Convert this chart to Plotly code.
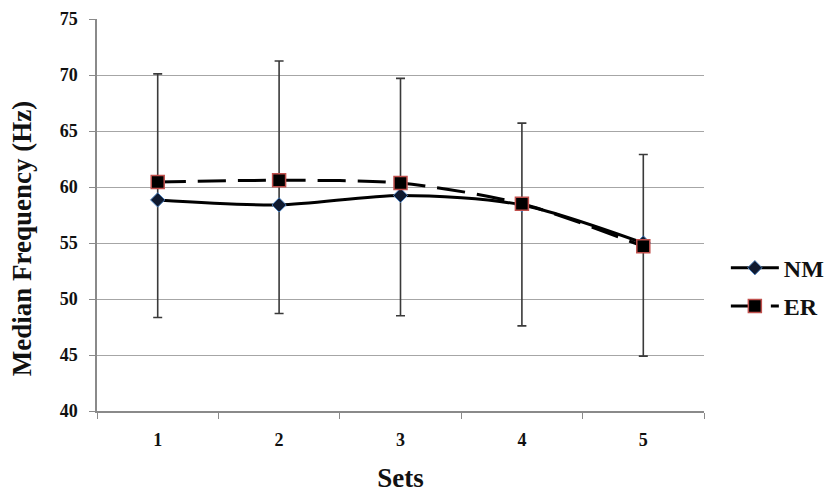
import plotly.graph_objects as go

# Median frequency per set for the two protocols
sets = ["1", "2", "3", "4", "5"]
nm_values = [58.85, 58.4, 59.25, 58.4, 55.0]
er_values = [60.45, 60.6, 60.35, 58.5, 54.7]

# Upper and lower ends of the variability bars
bar_top = [70.1, 71.25, 69.7, 65.7, 62.9]
bar_bottom = [48.35, 48.7, 48.5, 47.6, 44.9]

y_ticks = [40, 45, 50, 55, 60, 65, 70, 75]

serif = "Liberation Serif, Times New Roman, serif"
title_font = dict(family=serif, size=27, color="#111111", weight="bold")
tick_font = dict(family=serif, size=18, color="#111111", weight="bold")

err_plus = [t - v for t, v in zip(bar_top, nm_values)]
err_minus = [v - b for b, v in zip(bar_bottom, nm_values)]

fig = go.Figure()

# Bars spanning the spread at each set
fig.add_trace(go.Scatter(
    x=sets, y=nm_values, mode="markers",
    marker=dict(size=1, opacity=0),
    error_y=dict(type="data", symmetric=False, array=err_plus, arrayminus=err_minus,
                 color="#3a3a3a", thickness=1.6, width=4.5),
    showlegend=False, hoverinfo="skip",
))

fig.add_trace(go.Scatter(
    x=sets, y=nm_values, name="NM", mode="lines+markers",
    line=dict(color="#000000", width=3, shape="spline", smoothing=0.8),
    marker=dict(symbol="diamond", size=11, color="#101a30",
                line=dict(color="#4a7ebb", width=1)),
    legendgroup="nm",
))

fig.add_trace(go.Scatter(
    x=sets, y=er_values, name="ER", mode="lines+markers",
    line=dict(color="#000000", width=3, dash="28px,12px", shape="spline", smoothing=0.8),
    marker=dict(symbol="square", size=13, color="#000000",
                line=dict(color="#c0504d", width=1.5)),
    legendgroup="er",
))

fig.update_layout(
    width=828, height=493,
    margin=dict(l=97, r=124, t=19, b=82, autoexpand=False),
    paper_bgcolor="white", plot_bgcolor="white",
    font=dict(family=serif, color="#111111"),
    legend=dict(
        x=1.036, xanchor="left", y=0.316, yanchor="middle",
        font=dict(family=serif, size=24, color="#111111", weight="bold"),
        traceorder="grouped", tracegroupgap=4,
        bgcolor="rgba(0,0,0,0)", itemwidth=48,
    ),
    # Vertical y-axis title, set slightly below the plot's mid-height
    annotations=[dict(
        text="Median Frequency (Hz)", textangle=-90,
        xref="paper", yref="paper", x=-0.124, y=0.44,
        xanchor="center", yanchor="middle", showarrow=False,
        font=title_font,
    )],
)

fig.update_xaxes(
    type="category", range=[-0.5, 4.5],
    showgrid=False, showline=True, linecolor="#8a8a8a", linewidth=1.5,
    ticks="outside", tickson="boundaries", ticklen=6, tickcolor="#8a8a8a",
    tickfont=tick_font,
    ticklabelstandoff=12,
    title=dict(text="Sets", font=title_font, standoff=25),
    zeroline=False,
)

fig.update_yaxes(
    range=[40, 75], tickvals=y_ticks,
    showgrid=True, gridcolor="#a6a6a6", gridwidth=1.2,
    showline=True, linecolor="#8a8a8a", linewidth=1.5,
    ticks="outside", ticklen=6, tickcolor="#8a8a8a",
    tickfont=tick_font,
    ticklabelstandoff=8,
    zeroline=False,
)

fig.write_html("out.html")
